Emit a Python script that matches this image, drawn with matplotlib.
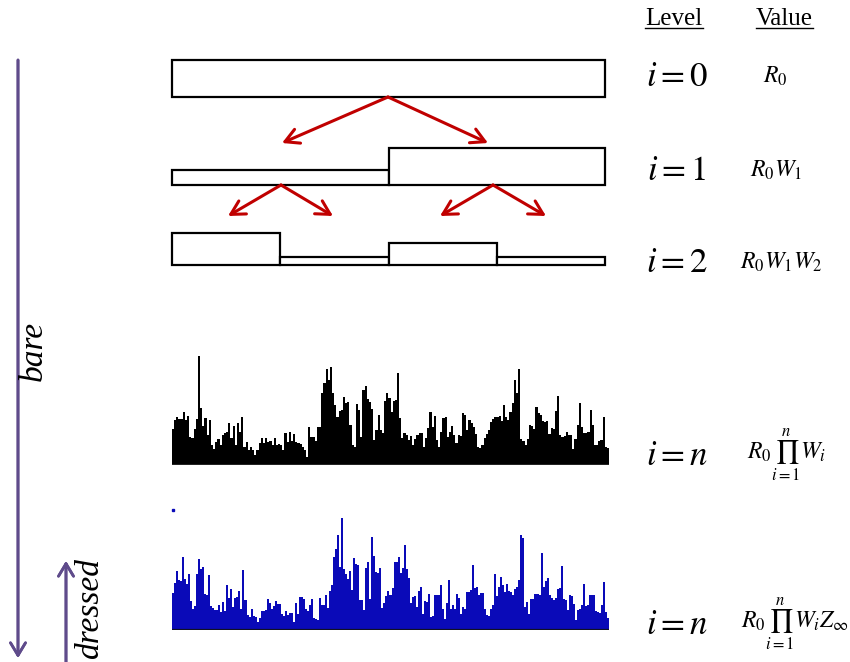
import numpy as np
import matplotlib.pyplot as plt
from matplotlib.lines import Line2D

plt.rcParams['mathtext.fontset'] = 'stix'
SERIF = 'Liberation Serif'

# cascade levels (box heights relative to R0)
level0 = [1.0]
level1 = [0.4, 1.0]
level2 = [0.86, 0.22, 0.6, 0.22]

# final "bare" field after n steps
bare = [36, 45, 48, 46, 46, 53, 45, 49, 28, 27, 36, 46, 109, 57, 39, 47, 30, 45, 20, 16,
        23, 26, 20, 30, 32, 33, 42, 27, 39, 20, 42, 33, 48, 18, 23, 15, 18, 15, 10, 15,
        22, 27, 22, 27, 23, 24, 20, 27, 20, 21, 20, 15, 32, 23, 33, 24, 31, 23, 22, 21,
        18,
        15, 8, 38, 28, 28, 24, 38, 38, 72, 82, 96, 85, 98, 72, 60, 48, 54, 55, 68, 62,
        63, 40, 20, 18, 61, 55, 28, 75, 79, 66, 63, 56, 25, 35, 50, 35, 32, 64, 72, 67,
        53, 64, 65, 92, 47, 27, 32, 30, 25, 29, 20, 26, 30, 32, 32, 18, 27, 37, 53, 38,
        49, 25, 18, 33, 47, 48, 28, 33, 39, 30,
        22, 30, 29, 52, 50, 35, 45, 42, 38, 31, 18, 17, 20, 27, 31, 35, 43, 46, 48, 48,
        49, 44, 60, 48, 45, 53, 62, 85, 72, 96, 26, 24, 20, 26, 40, 39, 36, 58, 52, 50,
        44, 43, 44, 31, 37, 36, 54, 69, 30, 28, 29, 33, 30, 30, 16, 26, 40, 62, 38, 32,
        32, 33, 55, 40, 20, 20, 24, 25, 48, 18, 17]

# same field including the dressing factor
dressed = [37, 47, 59, 50, 49, 73, 51, 46, 56, 29, 21, 24, 56, 71, 61, 63, 36, 35, 55, 24,
           22, 20, 20, 25, 18, 28, 19, 45, 32, 41, 23, 32, 33, 39, 21, 60, 30, 15, 13, 21,
           14, 13, 8, 12, 19, 19, 20, 31, 27, 21, 24, 29, 26, 26, 16, 14, 19, 15, 17, 17,
           8, 27, 16, 33, 33, 31, 21, 19, 25, 31, 12,
           11, 10, 32, 25, 25, 35, 22, 39, 45, 73, 81, 95, 63, 112, 61, 56, 51, 59, 40, 72,
           66, 65, 30, 30, 20, 62, 68, 31, 93, 74, 58, 57, 62, 22, 27, 34, 39, 35, 42, 68,
           68, 73, 57, 62, 85, 61, 52, 27, 33, 34, 23, 39, 43, 16, 29, 28, 36, 13, 14, 35,
           35, 35, 45, 21, 11, 27, 50, 21, 25, 21, 36, 32, 16,
           23, 21, 38, 38, 40, 65, 42, 43, 35, 37, 37, 21, 15, 14, 21, 25, 56, 34, 43, 53,
           45, 38, 46, 39, 38, 35, 41, 43, 50, 95, 92, 23, 28, 16, 31, 31, 36, 36, 35, 77,
           43, 49, 52, 35, 32, 30, 32, 41, 42, 64, 31, 30, 20, 35, 34, 26, 10, 20, 21, 25,
           46, 24, 25, 35, 35, 35, 19, 18, 17, 25, 48, 18, 12]

level_labels = [r'$i=0$', r'$i=1$', r'$i=2$', r'$i=n$', r'$i=n$']
value_labels = [r'$R_0$', r'$R_0W_1$', r'$R_0W_1W_2$',
                r'$R_0\prod_{i=1}^{n}W_i$', r'$R_0\prod_{i=1}^{n}W_iZ_\infty$']

W, H = 850, 662


def fx(px):
    return px / W


def fy(py):
    return 1 - py / H


fig = plt.figure(figsize=(8.5, 6.62), dpi=100)

# --- cascade boxes ---
unit = 37.0
ax = fig.add_axes([fx(172), fy(270), 433 / W, 220 / H])
ax.set_xlim(0, 1)
ax.set_ylim(-5 / unit, 215 / unit)
ax.axis('off')
bases = [(265 - 97) / unit, (265 - 185) / unit, 0.0]
for vals, base in zip([level0, level1, level2], bases):
    n = len(vals)
    bars = ax.bar(np.arange(n) / n, vals, width=1 / n, bottom=base, align='edge',
                  facecolor='white', edgecolor='black', linewidth=1.6)
    for b in bars:
        b.set_clip_on(False)

red = '#c00000'
akw = dict(arrowstyle='->, head_length=0.55, head_width=0.3', color=red, lw=2.2,
           mutation_scale=18, shrinkA=0, shrinkB=0)


def xpos(px):
    return (px - 172) / 433


def ypos(py):
    return (265 - py) / unit


for sx, sy, tx, ty in [(388, 97, 282, 143), (388, 97, 488, 143),
                       (281, 185, 228, 216), (281, 185, 333, 216),
                       (493, 185, 440, 216), (493, 185, 546, 216)]:
    ax.annotate('', xy=(xpos(tx), ypos(ty)), xytext=(xpos(sx), ypos(sy)),
                arrowprops=akw, annotation_clip=False)

# --- histograms ---
hb = fig.add_axes([fx(172), fy(465), 437 / W, 120 / H])
hb.bar(np.arange(len(bare)), bare, width=1.0, align='edge', color='black', linewidth=0)
hb.axhline(0, color='#bbbbbb', lw=1)
hb.set_xlim(0, len(bare))
hb.set_ylim(0, 120)
hb.axis('off')

blue = '#0a0ab8'
hd = fig.add_axes([fx(172), fy(630), 437 / W, 120 / H])
hd.bar(np.arange(len(dressed)), dressed, width=1.0, align='edge', color=blue, linewidth=0)
hd.axhline(0, color='#111122', lw=1.6)
hd.plot([0.3], [120], marker='s', ms=1.5, color=blue, clip_on=False)
hd.set_xlim(0, len(dressed))
hd.set_ylim(0, 120)
hd.axis('off')

# --- right-hand columns ---
for label, x in [('Level', 674), ('Value', 784)]:
    t = fig.text(fx(x), fy(19), label, family=SERIF, fontsize=18, ha='center', va='center')
    fig.canvas.draw()
    bb = t.get_window_extent().transformed(fig.transFigure.inverted())
    fig.add_artist(Line2D([bb.x0, bb.x1], [bb.y0 + 0.003, bb.y0 + 0.003],
                          transform=fig.transFigure, color='black', lw=1))

rows_y = [76, 170, 262, 455, 624]
value_x = [775, 776, 781, 787, 795]
for lab, val, y, vx in zip(level_labels, value_labels, rows_y, value_x):
    fig.text(fx(677), fy(y), lab, fontsize=25, ha='center', va='center')
    fig.text(fx(vx), fy(y), val, fontsize=17, ha='center', va='center')

# --- bare / dressed arrows ---
purple = '#5f4b8b'
pkw = dict(arrowstyle='->, head_length=0.5, head_width=0.3', color=purple, lw=2,
           mutation_scale=18, shrinkA=0, shrinkB=0)
fig.add_artist(plt.annotate('', xy=(fx(18), fy(658)), xytext=(fx(18), fy(60)),
                            xycoords='figure fraction', arrowprops=pkw))
fig.add_artist(plt.annotate('', xy=(fx(66), fy(561)), xytext=(fx(66), fy(662)),
                            xycoords='figure fraction', arrowprops=pkw))
fig.text(fx(34), fy(351), 'bare', family=SERIF, style='italic', fontsize=24,
         rotation=90, ha='center', va='center')
fig.text(fx(90), fy(608), 'dressed', family=SERIF, style='italic', fontsize=24,
         rotation=90, ha='center', va='center')

fig.savefig('out.png', dpi=100)
